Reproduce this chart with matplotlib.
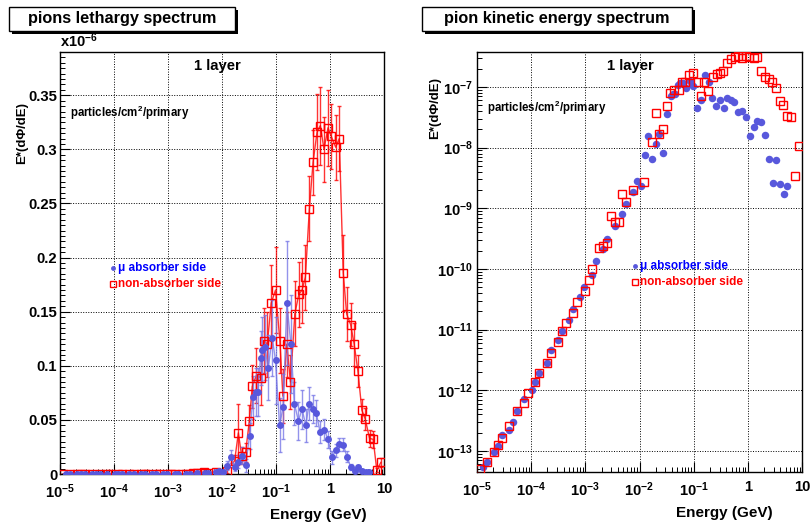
import matplotlib
matplotlib.use("Agg")
import matplotlib.pyplot as plt
from matplotlib.ticker import FuncFormatter, MultipleLocator, LogLocator, NullFormatter, FixedLocator
from matplotlib.patches import Rectangle
import numpy as np

plt.rcParams['font.family'] = ['Liberation Sans', 'DejaVu Sans']
plt.rcParams['font.weight'] = 'bold'
plt.rcParams['mathtext.fontset'] = 'custom'
plt.rcParams['mathtext.rm'] = 'Liberation Sans:bold'
plt.rcParams['mathtext.bf'] = 'Liberation Sans:bold'
plt.rcParams['mathtext.it'] = 'Liberation Sans:bold:italic'

# ---- data ----------------------------------------------------------------
# log10 of energy (GeV) for each bin, "mu absorber side" (blue)
logE_blue = [-4.884, -4.821, -4.681, -4.613, -4.539, -4.410, -4.336, -4.268, -4.127, -3.985,
             -3.924, -3.851, -3.714, -3.635, -3.506, -3.432, -3.297, -3.223, -3.094, -3.020,
             -2.878, -2.810, -2.670, -2.596, -2.459, -2.319, -2.256, -2.116, -2.048, -1.980,
             -1.900, -1.839, -1.766, -1.697, -1.637, -1.563, -1.489, -1.426, -1.378, -1.341,
             -1.286, -1.255, -1.205, -1.144, -1.070, -1.009, -0.935, -0.867, -0.799, -0.725,
             -0.659, -0.585, -0.517, -0.448, -0.387, -0.319, -0.253, -0.184, -0.105, -0.037,
             0.037, 0.105, 0.172, 0.245, 0.314, 0.382, 0.456, 0.517, 0.590, 0.659, 0.725]
# E*(dPhi/dE), particles/cm2/primary
flux_blue = [5.4e-14, 6.6e-14, 9.5e-14, 1.2e-13, 1.8e-13, 2.2e-13, 3.0e-13, 4.5e-13, 7.2e-13, 1.02e-12,
             1.38e-12, 1.9e-12, 2.8e-12, 4.7e-12, 6.8e-12, 9.5e-12, 1.45e-11, 2.2e-11, 3.5e-11, 5.0e-11,
             8.1e-11, 1.35e-10, 2.1e-10, 3.1e-10, 5.1e-10, 8.1e-10, 1.2e-9, 1.86e-9, 2.8e-9, 2.3e-9,
             7.6e-9, 1.58e-8, 6.6e-9, 1.15e-8, 1.7e-8, 8.1e-9, 3.55e-8, 7.1e-8, 7.6e-8, 7.6e-8,
             1.07e-7, 1.15e-7, 1.17e-7, 9.8e-8, 1.26e-7, 1.05e-7, 4.5e-8, 6.2e-8, 1.58e-7, 1.2e-7,
             6.5e-8, 4.9e-8, 6.0e-8, 4.5e-8, 6.5e-8, 6.0e-8, 5.6e-8, 3.9e-8, 4.1e-8, 3.2e-8,
             1.55e-8, 2.2e-8, 2.75e-8, 2.7e-8, 1.6e-8, 6.6e-9, 2.6e-9, 6.2e-9, 2.5e-9, 1.7e-9, 2.3e-9]
# error bars, in units of 1e-6
err_blue = [0, 0, 0, 0, 0, 0, 0, 0, 0, 0,
            0, 0, 0, 0, 0, 0, 0, 0, 0, 0,
            0, 0, 0, 0, 0, 0, 0, 0.001, 0.001, 0.001,
            0.004, 0.006, 0.004, 0.006, 0.008, 0.006, 0.012, 0.02, 0.022, 0.022,
            0.025, 0.03, 0.03, 0.03, 0.035, 0.04, 0.025, 0.03, 0.057, 0.045,
            0.02, 0.018, 0.018, 0.015, 0.015, 0.013, 0.012, 0.01, 0.01, 0.008,
            0.006, 0.006, 0.006, 0.006, 0.005, 0.003, 0.002, 0.002, 0.002, 0.001, 0.001]

# "non-absorber side" (red)
logE_red = [-4.945, -4.821, -4.681, -4.613, -4.539, -4.410, -4.268, -4.127, -4.053, -3.924,
            -3.851, -3.714, -3.635, -3.506, -3.432, -3.363, -3.223, -3.161, -3.013, -2.939,
            -2.878, -2.749, -2.675, -2.601, -2.533, -2.454, -2.380, -2.325, -2.256, -2.116,
            -1.913, -1.766, -1.697, -1.637, -1.563, -1.494, -1.439, -1.365, -1.279, -1.223,
            -1.161, -1.089, -1.009, -0.928, -0.873, -0.800, -0.732, -0.651, -0.578, -0.517,
            -0.456, -0.382, -0.314, -0.240, -0.179, -0.111, -0.037, 0.024, 0.105, 0.172,
            0.245, 0.308, 0.382, 0.448, 0.517, 0.590, 0.651, 0.732, 0.799, 0.867, 0.941]
flux_red = [5.0e-14, 6.6e-14, 9.5e-14, 1.26e-13, 1.62e-13, 2.6e-13, 4.5e-13, 6.2e-13, 9.1e-13, 1.38e-12,
            1.9e-12, 2.8e-12, 4.2e-12, 6.2e-12, 9.5e-12, 1.29e-11, 1.86e-11, 2.9e-11, 4.4e-11, 6.5e-11,
            1.0e-10, 2.2e-10, 2.4e-10, 2.7e-10, 7.6e-10, 6.0e-10, 6.0e-10, 1.74e-9, 1.26e-9, 2.0e-9,
            2.7e-9, 1.23e-8, 3.8e-8, 1.7e-8, 2.0e-8, 4.9e-8, 8.1e-8, 9.1e-8, 8.9e-8, 1.23e-7,
            1.2e-7, 1.58e-7, 1.7e-7, 1.23e-7, 7.2e-8, 1.2e-7, 8.5e-8, 1.48e-7, 1.66e-7, 1.7e-7,
            1.82e-7, 2.45e-7, 2.88e-7, 3.16e-7, 3.22e-7, 3.0e-7, 3.2e-7, 3.12e-7, 3.02e-7, 3.1e-7,
            1.86e-7, 1.48e-7, 1.38e-7, 1.2e-7, 9.5e-8, 5.9e-8, 5.1e-8, 3.3e-8, 3.2e-8, 3.4e-9, 1.07e-8]
err_red = [0, 0, 0, 0, 0, 0, 0, 0, 0, 0,
           0, 0, 0, 0, 0, 0, 0, 0, 0, 0,
           0, 0, 0, 0, 0, 0, 0, 0.001, 0.001, 0.001,
           0.002, 0.005, 0.027, 0.008, 0.009, 0.015, 0.02, 0.025, 0.025, 0.03,
           0.03, 0.035, 0.04, 0.03, 0.025, 0.03, 0.025, 0.03, 0.03, 0.03,
           0.03, 0.03, 0.03, 0.035, 0.036, 0.03, 0.035, 0.03, 0.03, 0.03,
           0.035, 0.025, 0.02, 0.02, 0.015, 0.01, 0.01, 0.008, 0.008, 0.002, 0.004]

# axis ticks
energy_ticks = [1e-5, 1e-4, 1e-3, 1e-2, 1e-1, 1, 10]
lin_ticks = [0, 0.05, 0.1, 0.15, 0.2, 0.25, 0.3, 0.35]
log_ticks = [1e-13, 1e-12, 1e-11, 1e-10, 1e-9, 1e-8, 1e-7]
# ---------------------------------------------------------------------------

e_blue = 10 ** np.array(logE_blue)
e_red = 10 ** np.array(logE_red)
fb = np.array(flux_blue)
fr = np.array(flux_red)

BLUE = '#5858dc'
BLUE_LINE = '#7878e6'
RED = '#ff0000'

W, H = 811, 525
fig = plt.figure(figsize=(W / 100, H / 100), dpi=100)


def px_axes(x0, y0, x1, y1):
    return fig.add_axes([x0 / W, 1 - y1 / H, (x1 - x0) / W, (y1 - y0) / H])


def log_label(v, pos):
    p = int(round(np.log10(v)))
    if p == 0:
        return '1'
    if p == 1:
        return '10'
    return r'$\mathbf{10^{%d}}$' % p


def style_axes(ax):
    ax.tick_params(which='both', direction='in', top=False, right=False, labelsize=10.7)
    ax.tick_params(which='major', length=7, width=0.8)
    ax.tick_params(which='minor', length=3.5, width=0.7)
    ax.grid(True, which='major', linestyle=(0, (1, 1.6)), color='black', linewidth=0.7)
    for s in ax.spines.values():
        s.set_linewidth(1.0)
    ax.set_xscale('log')
    ax.set_xlim(1e-5, 10)
    ax.xaxis.set_major_locator(FixedLocator(energy_ticks))
    ax.xaxis.set_minor_locator(LogLocator(base=10, subs=np.arange(2, 10), numticks=20))
    ax.xaxis.set_major_formatter(FuncFormatter(log_label))
    ax.xaxis.set_minor_formatter(NullFormatter())
    ax.tick_params(axis='x', pad=6)


# ---------------- left: lethargy spectrum (linear y) ----------------------
ax1 = px_axes(60, 52, 384, 474)
style_axes(ax1)
ax1.errorbar(e_red, fr * 1e6, yerr=err_red, fmt='none', ecolor=RED, elinewidth=1.0,
             capsize=1.5, alpha=0.8, zorder=2)
ax1.plot(e_red, fr * 1e6, '-', color=RED, lw=1.0, alpha=0.8, zorder=2)
ax1.plot(e_red, fr * 1e6, 's', mfc='none', mec=RED, ms=5.5, mew=1.0, zorder=4)
ax1.errorbar(e_blue, fb * 1e6, yerr=err_blue, fmt='none', ecolor=BLUE_LINE, elinewidth=1.0,
             capsize=1.5, alpha=0.8, zorder=3)
ax1.plot(e_blue, fb * 1e6, '-', color=BLUE_LINE, lw=1.0, alpha=0.8, zorder=3)
ax1.plot(e_blue, fb * 1e6, 'o', color=BLUE, ms=5, mew=0, zorder=5)
ax1.set_ylim(0, 0.39)
ax1.yaxis.set_major_locator(FixedLocator(lin_ticks))
ax1.yaxis.set_minor_locator(MultipleLocator(0.005))
ax1.yaxis.set_major_formatter(FuncFormatter(lambda v, p: '0' if abs(v) < 1e-9 else ('%.2f' % v).rstrip('0')))
ax1.tick_params(axis='y', pad=2)
ax1.text(0.0, 1.005, r'x10$^{\mathbf{-6}}$', transform=ax1.transAxes, fontsize=10.5,
         ha='left', va='bottom')

# ---------------- right: kinetic energy spectrum (log y) ------------------
ax2 = px_axes(477, 52, 802, 472)
style_axes(ax2)
ax2.set_yscale('log')
ax2.plot(e_blue, fb, 'o', color=BLUE, ms=5.4, mew=0, zorder=3)
ax2.plot(e_red, fr, 's', mfc='none', mec=RED, ms=6, mew=1.0, zorder=4)
ax2.set_ylim(4.5e-14, 3.78e-7)
ax2.yaxis.set_major_locator(FixedLocator(log_ticks))
ax2.yaxis.set_minor_locator(LogLocator(base=10, subs=np.arange(2, 10), numticks=30))
ax2.yaxis.set_major_formatter(FuncFormatter(log_label))
ax2.yaxis.set_minor_formatter(NullFormatter())
ax2.tick_params(axis='y', pad=3)

# ---------------- annotations --------------------------------------------
for ax, lx, ly, tx, mx in [(ax1, 0.485, 0.967, 0.031, 0.164), (ax2, 0.471, 0.967, 0.031, 0.486)]:
    ax.text(lx, ly, '1 layer', transform=ax.transAxes, fontsize=10.7, ha='center', va='center')
    pty = 0.855 if ax is ax1 else 0.867
    ax.text(tx, pty, r'particles/cm$^{\mathbf{2}}$/primary', transform=ax.transAxes,
            fontsize=8.3, ha='left', va='center')
    ly1 = 0.488 if ax is ax1 else 0.490
    ly2 = 0.450 if ax is ax1 else 0.452
    ax.plot([mx], [ly1], 'o', color=BLUE, ms=3.5, mew=0, transform=ax.transAxes, clip_on=False)
    ax.plot([mx], [ly2], 's', mfc='none', mec=RED, ms=4, mew=1.0, transform=ax.transAxes, clip_on=False)
    ax.text(mx + 0.016, ly1, '\u03bc absorber side', transform=ax.transAxes, fontsize=8.5,
            color='#0000ff', ha='left', va='center')
    ax.text(mx + 0.016, ly2, 'non-absorber side', transform=ax.transAxes, fontsize=8.5,
            color=RED, ha='left', va='center')

# axis titles
fig.text(22 / W, 1 - 133 / H, 'E*(d\u03a6/dE)', rotation=90, fontsize=9.5, ha='center', va='center')
fig.text(435 / W, 1 - 108 / H, 'E*(d\u03a6/dE)', rotation=90, fontsize=9.5, ha='center', va='center')
fig.text(367 / W, 1 - 515 / H, 'Energy (GeV)', fontsize=11, ha='right', va='center')
fig.text(773 / W, 1 - 513 / H, 'Energy (GeV)', fontsize=11, ha='right', va='center')


def title_box(x0, y0, x1, y1, text):
    # shadow first, then the white box on top
    fig.add_artist(Rectangle((x0 / W + 3 / W, 1 - (y1 + 3) / H), (x1 - x0) / W, (y1 - y0) / H,
                             transform=fig.transFigure, facecolor='black', edgecolor='black', lw=0))
    fig.add_artist(Rectangle((x0 / W, 1 - y1 / H), (x1 - x0) / W, (y1 - y0) / H,
                             transform=fig.transFigure, facecolor='white', edgecolor='black', lw=1))
    fig.text((x0 + x1) / 2 / W, 1 - (y0 + y1) / 2 / H, text, fontsize=11.7, ha='center', va='center')


title_box(9, 7, 235, 31, 'pions lethargy spectrum')
title_box(422, 7, 692, 31, 'pion kinetic energy spectrum')

fig.savefig('out.png', dpi=100)
